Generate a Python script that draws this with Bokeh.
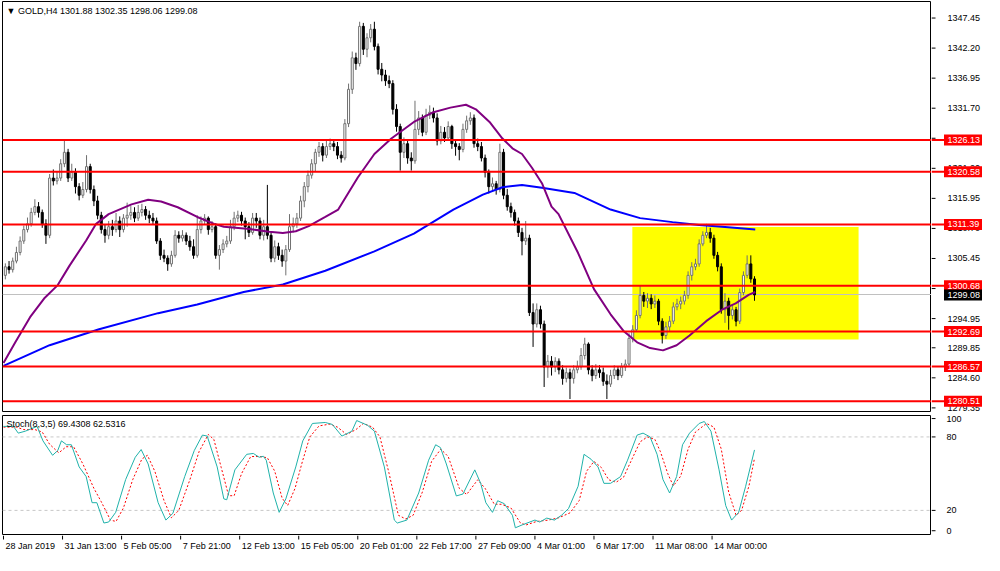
from bokeh.plotting import figure
from bokeh.models import Range1d, Span, Label, ColumnDataSource
from bokeh.layouts import column, row
from bokeh.core.properties import value
from bokeh.embed import file_html
from bokeh.resources import INLINE

# ---------------- data ----------------
opens = [1302.5,1304.0,1303.5,1305.0,1306.5,1308.5,1310.5,1311.5,1313.5,1314.5,
 1313.5,1311.5,1309.5,1319.5,1319.0,1319.5,1322.0,1324.0,1319.5,1320.5,
 1318.0,1316.5,1317.5,1321.5,1317.5,1315.5,1313.0,1310.5,1309.5,1311.0,
 1310.5,1312.0,1310.5,1312.5,1313.0,1313.5,1312.5,1313.5,1314.0,1313.0,
 1312.5,1312.0,1308.5,1306.0,1305.5,1304.5,1306.0,1309.5,1309.0,1309.5,
 1308.5,1307.5,1306.0,1310.5,1312.0,1312.5,1310.5,1311.0,1306.0,1307.0,
 1308.0,1308.5,1311.0,1312.5,1313.0,1312.0,1311.0,1310.0,1312.5,1312.0,
 1309.5,1311.0,1309.5,1305.5,1307.5,1306.0,1305.0,1307.0,1311.0,1311.5,
 1312.5,1315.5,1318.0,1320.0,1322.0,1324.0,1325.0,1323.5,1325.0,1325.5,
 1325.0,1323.5,1323.0,1329.0,1335.0,1340.5,1339.5,1346.0,1342.0,1344.0,
 1345.5,1342.5,1338.5,1337.5,1336.5,1336.0,1331.5,1328.5,1324.0,1325.5,
 1323.0,1322.5,1328.0,1330.0,1327.5,1330.5,1331.0,1330.0,1326.0,1327.5,
 1326.5,1328.5,1325.5,1325.0,1324.5,1328.0,1329.5,1330.0,1325.5,1325.0,
 1323.0,1320.5,1318.0,1318.5,1317.5,1324.0,1316.5,1314.5,1313.5,1312.0,
 1310.0,1308.5,1309.0,1296.0,1294.0,1296.5,1294.0,1286.5,1287.5,1286.5,
 1287.5,1286.0,1284.5,1285.5,1284.5,1286.0,1286.5,1288.5,1290.5,1286.0,
 1285.0,1286.0,1285.5,1284.0,1283.5,1285.0,1286.0,1285.0,1286.5,1287.0,
 1291.5,1293.0,1295.5,1299.0,1298.0,1298.5,1297.5,1298.0,1294.5,1292.0,
 1293.5,1294.5,1297.0,1297.5,1298.0,1299.0,1302.5,1304.0,1304.5,1308.0,
 1309.5,1310.0,1309.0,1306.0,1304.0,1296.5,1298.0,1295.5,1296.5,1294.5,
 1299.5,1302.5,1304.5,1301.88]

highs = [1304.6,1305.0,1305.6,1307.5,1309.3,1311.2,1312.6,1314.3,1315.8,1315.3,
 1314.0,1312.3,1320.2,1321.0,1320.6,1322.8,1326.2,1324.6,1322.0,1321.2,
 1318.6,1318.8,1323.5,1322.0,1318.2,1316.4,1313.6,1311.4,1312.0,1312.2,
 1313.4,1312.8,1313.2,1315.2,1314.6,1314.4,1314.8,1315.0,1314.6,1313.8,
 1313.4,1312.6,1309.0,1307.0,1306.0,1306.8,1310.4,1310.2,1310.4,1310.0,
 1309.4,1308.8,1313.0,1312.8,1313.2,1312.8,1312.0,1311.6,1307.8,1308.8,
 1309.4,1312.2,1313.6,1313.8,1313.6,1312.6,1311.8,1313.4,1313.4,1312.6,
 1312.2,1318.3,1310.0,1308.6,1308.2,1307.0,1307.8,1313.2,1312.6,1313.4,
 1316.4,1318.8,1320.8,1322.8,1324.6,1325.8,1325.6,1326.0,1326.4,1326.2,
 1325.8,1324.2,1329.8,1336.0,1341.6,1341.4,1346.8,1346.6,1344.8,1346.4,
 1346.8,1343.0,1339.6,1338.4,1337.4,1336.6,1332.4,1329.0,1326.6,1326.0,
 1324.0,1333.0,1331.2,1330.6,1331.6,1332.2,1331.8,1330.8,1328.6,1328.4,
 1329.4,1328.8,1326.2,1325.6,1329.0,1330.4,1331.0,1330.6,1326.4,1325.8,
 1323.6,1321.0,1319.6,1319.0,1325.5,1324.6,1317.6,1315.2,1314.0,1312.6,
 1310.8,1312.0,1309.6,1297.6,1297.6,1297.2,1294.6,1288.6,1288.4,1288.2,
 1288.0,1286.8,1286.4,1286.2,1286.8,1287.6,1289.8,1291.6,1290.8,1286.8,
 1287.0,1286.8,1286.4,1285.2,1286.0,1286.8,1286.6,1287.2,1287.8,1292.4,
 1293.8,1296.4,1300.8,1299.6,1299.4,1299.2,1299.0,1298.4,1295.0,1294.4,
 1295.4,1297.8,1298.4,1298.8,1299.8,1303.2,1304.8,1305.4,1308.8,1310.2,
 1311.5,1310.8,1309.6,1306.6,1304.6,1299.4,1298.6,1297.4,1297.0,1300.2,
 1303.2,1306.0,1306.0,1302.35]

lows = [1301.8,1302.8,1303.0,1304.6,1306.0,1308.0,1310.0,1311.0,1313.0,1312.6,
 1310.8,1308.0,1309.0,1318.2,1318.4,1319.0,1321.4,1318.8,1319.0,1316.8,
 1315.6,1316.0,1317.0,1316.8,1314.6,1312.3,1309.8,1308.2,1308.8,1309.4,
 1310.0,1309.2,1310.0,1311.0,1312.2,1311.8,1312.0,1312.8,1312.2,1311.6,
 1311.4,1308.0,1305.2,1304.8,1303.3,1304.0,1305.6,1308.2,1308.4,1307.8,
 1306.8,1305.4,1305.6,1309.8,1311.4,1309.6,1310.0,1305.4,1303.5,1306.4,
 1307.4,1308.0,1310.4,1311.8,1311.2,1308.8,1309.2,1309.6,1310.8,1308.8,
 1308.6,1308.8,1304.8,1304.8,1305.2,1304.0,1302.5,1306.6,1310.0,1310.8,
 1312.0,1314.4,1317.0,1319.4,1320.6,1323.2,1322.4,1323.0,1324.4,1324.2,
 1322.8,1322.2,1322.6,1328.4,1334.2,1338.4,1339.0,1341.0,1340.6,1343.2,
 1341.8,1337.6,1336.4,1335.6,1335.2,1330.6,1327.6,1320.8,1323.0,1322.0,
 1320.8,1322.0,1327.0,1326.8,1327.0,1329.8,1329.2,1325.2,1325.4,1325.8,
 1326.0,1324.6,1323.4,1322.6,1324.0,1327.4,1328.8,1324.8,1324.2,1322.4,
 1319.6,1316.8,1317.2,1316.6,1317.0,1315.8,1313.8,1312.6,1311.2,1309.2,
 1306.0,1307.8,1295.4,1290.0,1293.4,1293.2,1283.0,1284.6,1285.0,1285.6,
 1285.2,1283.4,1283.8,1280.9,1283.6,1285.4,1286.0,1287.8,1285.2,1284.0,
 1284.4,1284.6,1283.2,1280.9,1283.0,1284.4,1284.2,1284.6,1285.8,1286.6,
 1290.8,1292.6,1295.0,1297.0,1296.8,1296.6,1296.8,1293.8,1290.6,1291.4,
 1292.8,1294.0,1296.4,1296.6,1297.4,1298.4,1301.6,1303.4,1304.0,1307.6,
 1309.0,1308.2,1305.4,1303.2,1295.8,1294.2,1293.0,1294.8,1293.6,1294.0,
 1299.0,1302.0,1301.2,1298.06]

closes = [1304.0,1303.5,1305.0,1306.5,1308.5,1310.5,1311.5,1313.5,1314.5,1313.5,
 1311.5,1309.5,1319.5,1319.0,1319.5,1322.0,1324.0,1319.5,1320.5,1318.0,
 1316.5,1317.5,1321.5,1317.5,1315.5,1313.0,1310.5,1309.5,1311.0,1310.5,
 1312.0,1310.5,1312.5,1313.0,1313.5,1312.5,1313.5,1314.0,1313.0,1312.5,
 1312.0,1308.5,1306.0,1305.5,1304.5,1306.0,1309.5,1309.0,1309.5,1308.5,
 1307.5,1306.0,1310.5,1312.0,1312.5,1310.5,1311.0,1306.0,1307.0,1308.0,
 1308.5,1311.0,1312.5,1313.0,1312.0,1311.0,1310.0,1312.5,1312.0,1309.5,
 1311.0,1309.5,1305.5,1307.5,1306.0,1305.0,1307.0,1311.0,1311.5,1312.5,
 1315.5,1318.0,1320.0,1322.0,1324.0,1325.0,1323.5,1325.0,1325.5,1325.0,
 1323.5,1323.0,1329.0,1335.0,1340.5,1339.5,1346.0,1342.0,1344.0,1345.5,
 1342.5,1338.5,1337.5,1336.5,1336.0,1331.5,1328.5,1324.0,1325.5,1323.0,
 1322.5,1328.0,1330.0,1327.5,1330.5,1331.0,1330.0,1326.0,1327.5,1326.5,
 1328.5,1325.5,1325.0,1324.5,1328.0,1329.5,1330.0,1325.5,1325.0,1323.0,
 1320.5,1318.0,1318.5,1317.5,1324.0,1316.5,1314.5,1313.5,1312.0,1310.0,
 1308.5,1309.0,1296.0,1294.0,1296.5,1294.0,1286.5,1287.5,1286.5,1287.5,
 1286.0,1284.5,1285.5,1284.5,1286.0,1286.5,1288.5,1290.5,1286.0,1285.0,
 1286.0,1285.5,1284.0,1283.5,1285.0,1286.0,1285.0,1286.5,1287.0,1291.5,
 1293.0,1295.5,1299.0,1298.0,1298.5,1297.5,1298.0,1294.5,1292.0,1293.5,
 1294.5,1297.0,1297.5,1298.0,1299.0,1302.5,1304.0,1304.5,1308.0,1309.5,
 1310.0,1309.0,1306.0,1304.0,1296.5,1298.0,1295.5,1296.5,1294.5,1299.5,
 1302.5,1304.5,1301.88,1299.08]

# moving averages (bar index, price)
ma_purple_x = [-0.5, 2.7, 6.7, 10.7, 14.2, 17.4, 21.9, 24.6, 28.0, 34.2, 38.7, 42.2, 46.7, 52.0,
               56.6, 59.2, 66.2, 71.5, 75.2, 78.7, 82.2, 86.7, 90.2, 95.5, 100.0, 104.6, 110.7,
               116.0, 120.6, 124.8, 127.5, 131.2, 134.7, 137.4, 140.0, 142.7, 145.4, 148.0, 149.9,
               155.2, 159.5, 164.0, 167.5, 171.2, 174.7, 178.2, 181.9, 185.4, 189.9, 194.2, 197.9,
               201.4, 203.2]
ma_purple_y = [1287.2, 1290.8, 1295.2, 1298.6, 1300.8, 1304.2, 1308.6, 1311.5, 1313.2, 1314.9,
               1315.7, 1315.4, 1314.4, 1312.7, 1311.5, 1311.0, 1310.6, 1310.1, 1309.9, 1310.2,
               1311.1, 1312.7, 1314.0, 1319.6, 1323.7, 1326.4, 1329.3, 1331.0, 1331.8, 1332.3,
               1331.5, 1329.3, 1326.4, 1324.7, 1323.7, 1321.3, 1318.6, 1314.5, 1313.2, 1306.4,
               1300.1, 1295.7, 1292.8, 1290.8, 1289.8, 1289.4, 1290.3, 1292.0, 1294.5, 1296.5,
               1297.6, 1299.1, 1299.6]
ma_blue_x = [-0.5, 12.0, 25.4, 41.4, 52.0, 64.6, 75.2, 86.7, 100.0, 110.7, 121.4, 129.4, 134.7,
             140.0, 145.4, 154.2, 164.0, 172.0, 180.8, 188.0, 194.2, 203.2]
ma_blue_y = [1286.7, 1290.3, 1293.1, 1295.9, 1297.4, 1299.6, 1300.9, 1303.3, 1306.7, 1309.8,
             1314.0, 1316.6, 1317.9, 1318.3, 1317.8, 1316.9, 1314.0, 1312.5, 1311.8, 1311.3,
             1311.0, 1310.5]

# stochastic %K (main) and %D (signal)
stoch_k_x = [-0.5, 2.2, 3.5, 5.4, 8.6, 10.2, 12.8, 14.2, 15.2, 16.6, 17.9, 20.0, 21.9, 23.5, 24.8,
             26.7, 28.0, 29.9, 32.6, 35.2, 36.8, 38.7, 41.4, 43.5, 45.4, 48.6, 51.2, 53.4, 54.7,
             57.4, 59.2, 60.0, 62.2, 65.4, 67.2, 68.8, 69.9, 70.7, 72.6, 74.2, 76.0, 78.7, 80.6,
             83.2, 86.7, 88.6, 91.2, 93.9, 95.2, 98.2, 100.0, 102.7, 105.4, 106.2, 108.8, 112.0,
             114.7, 116.6, 117.9, 119.5, 122.2, 124.0, 127.2, 128.8, 130.2, 132.0, 133.4, 135.2,
             137.4, 138.2, 140.0, 143.5, 144.8, 146.7, 148.8, 150.7, 152.6, 155.2, 156.8, 158.7,
             160.6, 162.2, 164.0, 166.7, 168.6, 171.2, 172.8, 174.7, 176.6, 178.2, 180.0, 181.9,
             183.5, 185.4, 188.0, 189.4, 191.2, 193.4, 195.2, 196.8, 198.7, 200.6, 203.0]
stoch_k_v = [88.6, 88.6, 83.1, 84.7, 88.6, 76.8, 65.0, 68.9, 76.8, 73.6, 73.6, 55.5, 47.6, 26.3, 26.3,
             9.7, 10.5, 18.4, 45.2, 63.4, 69.7, 57.9, 26.3, 12.1, 17.6, 47.6, 68.9, 81.5, 80.7,
             55.5, 29.4, 28.7, 53.1, 65.8, 66.5, 63.4, 64.2, 61.0, 34.2, 18.4, 29.4, 55.5, 76.8,
             91.0, 91.8, 90.2, 80.7, 84.7, 93.4, 89.4, 84.7, 55.5, 12.1, 9.7, 12.1, 34.2,
             61.0, 73.6, 71.3, 57.9, 31.8, 33.4, 53.1, 42.1, 26.3, 18.4, 27.9, 25.5,
             16.0, 5.8, 8.1, 12.1, 10.5, 13.7, 12.1, 16.0, 21.5, 39.7, 65.8, 61.8,
             55.5, 42.1, 42.1, 47.6, 61.0, 81.5, 83.1, 80.0, 65.8, 45.2, 34.2, 47.6,
             73.6, 83.1, 91.0, 92.6, 84.7, 53.1, 23.9, 12.1, 18.4, 39.7, 69.4]
stoch_d_x = [-0.5, 3, 5, 8, 10, 12, 14.5, 16.5, 18.5, 21, 24, 26, 28.5, 30, 32, 34.5, 37, 38.5, 40.5,
             43, 45, 47, 50, 52.5, 55, 56.5, 58.5, 60.5, 62, 64, 66.5, 69, 71, 73, 75, 76.5, 78.5,
             80.5, 82.5, 85, 88, 90, 92.5, 95, 97, 99.5, 101.5, 104, 106.5, 108.5, 110.5, 113,
             115.5, 118, 120, 123, 125, 128, 130, 132.5, 134.5, 137, 139.5, 141, 144, 147, 150,
             153, 155.5, 157.5, 159.5, 161.5, 163.5, 165.5, 167.5, 169.5, 172, 174, 176, 177.5,
             179.5, 181, 183, 185, 187, 190, 192, 194, 196, 198, 199.5, 201.5, 203]
stoch_d_v = [88, 88, 86, 86, 84, 74, 67, 72, 72, 58, 38, 27, 12, 11, 22, 45, 62, 65, 52,
             28, 14, 20, 45, 68, 82, 78, 55, 32, 32, 50, 64, 64, 63, 52, 30, 24, 38,
             60, 80, 89, 90.5, 88, 82, 86, 91, 88, 80, 50, 16, 13, 16, 35,
             60, 70, 64, 38, 33, 45, 38, 25, 25, 22, 10, 8, 11, 12, 14,
             18, 28, 52, 60, 55, 45, 43, 47, 60, 76, 80, 78, 68,
             50, 40, 48, 70, 84, 91, 88, 70, 35, 16, 20, 40, 62.5]

levels = [1326.13, 1320.58, 1311.39, 1300.68, 1292.69, 1286.57, 1280.51]
last_price = 1299.08
price_ticks = [1347.45, 1342.20, 1336.95, 1331.70, 1326.45, 1321.20, 1315.95, 1310.70,
               1305.45, 1300.20, 1294.95, 1289.85, 1284.60, 1279.35]
price_tick_labels = ["1347.45", "1342.20", "1336.95", "1331.70", "1326.45", "1321.20", "1315.95",
                     "1310.70", "1305.45", "1300.20", "1294.95", "1289.85", "1284.60", "1279.35"]
tick_bars = [0, 16, 32, 48, 64, 80, 96, 112, 128, 144, 160, 176, 192]
tick_labels = ["28 Jan 2019", "31 Jan 13:00", "5 Feb 05:00", "7 Feb 21:00", "12 Feb 13:00",
               "15 Feb 05:00", "20 Feb 01:00", "22 Feb 17:00", "27 Feb 09:00", "4 Mar 01:00",
               "6 Mar 17:00", "11 Mar 08:00", "14 Mar 00:00"]
stoch_ticks = [3.4, 20, 80, 95]
stoch_tick_labels = ["0", "20", "80", "100"]
zone_bars = [169.9, 231.2]
zone_prices = [1291.28, 1310.96]
header_text = "\u25BC GOLD,H4  1301.88 1302.35 1298.06 1299.08"
stoch_text = "Stoch(8,3,5) 69.4308 62.5316"

# ---------------- layout constants ----------------
FONT = "Liberation Sans"
FS = "9px"
W = 984
BL = 2          # left border
RW = 53         # right price-scale strip
LW = W - RW     # left column width
H1, T1, B1 = 413, 1, 2      # main panel
H2, T2 = 122, 2             # stochastic panel
H3 = 20                     # time-scale strip
TICK = 4
LBL_X = 16
BOX_X0, BOX_X1 = 12.5, 50.5

xr = Range1d(-0.77, 250.96)
yr1 = Range1d(1278.72, 1350.34)
yr2 = Range1d(-0.5, 97.5)


def base(width, height, x_range, y_range, left=0, right=0, top=0, bottom=0):
    f = figure(width=width, height=height, x_range=x_range, y_range=y_range,
               output_backend="svg", toolbar_location=None,
               x_axis_location=None, y_axis_location=None,
               min_border=0, min_border_left=left, min_border_right=right,
               min_border_top=top, min_border_bottom=bottom)
    f.grid.visible = False
    f.border_fill_color = "white"
    f.background_fill_color = "white"
    return f


# ---------------- main price panel ----------------
p1 = base(LW, H1, xr, yr1, left=BL, top=T1, bottom=B1)
p1.outline_line_color = "black"

p1.quad(left=[zone_bars[0]], right=[zone_bars[1]], bottom=[zone_prices[0]], top=[zone_prices[1]],
        fill_color="#FFFF00", line_color=None)
p1.hspan(y=[last_price], line_color="#C0C0C0", line_width=1)

n = len(closes)
up = [i for i in range(n) if closes[i] >= opens[i]]
dn = [i for i in range(n) if closes[i] < opens[i]]


def src(idx):
    return ColumnDataSource(dict(
        x=idx,
        high=[highs[i] for i in idx],
        low=[lows[i] for i in idx],
        top=[max(opens[i], closes[i]) for i in idx],
        bottom=[min(opens[i], closes[i]) for i in idx],
    ))


s_up, s_dn = src(up), src(dn)
p1.segment(x0="x", x1="x", y0="low", y1="high", source=s_up, line_color="#707070", line_width=1)
p1.segment(x0="x", x1="x", y0="low", y1="high", source=s_dn, line_color="#000000", line_width=1)
p1.vbar(x="x", width=0.55, top="top", bottom="bottom", source=s_up,
        fill_color="white", line_color="#707070", line_width=1)
p1.vbar(x="x", width=0.55, top="top", bottom="bottom", source=s_dn,
        fill_color="black", line_color="black", line_width=1)

p1.line(ma_blue_x, ma_blue_y, line_color="#0000FF", line_width=2)
p1.line(ma_purple_x, ma_purple_y, line_color="#800080", line_width=2)

for lv in levels:
    p1.add_layout(Span(location=lv, dimension="width", line_color="#FF0000", line_width=2))

p1.add_layout(Label(x=4, y=H1 - T1 - B1 - 4, x_units="screen", y_units="screen", text=header_text,
                    text_font=FONT, text_font_size=FS, text_baseline="top", text_color="black"))

# ---------------- main price scale (right strip) ----------------
p1r = base(RW, H1, Range1d(0, RW), yr1, top=T1, bottom=B1)
p1r.outline_line_color = None
p1r.segment(x0=[0] * len(price_ticks), x1=[TICK] * len(price_ticks), y0=price_ticks, y1=price_ticks,
            line_color="black", line_width=1)
p1r.text(x=[LBL_X] * len(price_ticks), y=price_ticks, text=price_tick_labels,
         text_font=value(FONT), text_font_size=value(FS), text_baseline="middle",
         text_align="left", text_color="black")
p1r.segment(x0=[0] * len(levels), x1=[BOX_X0] * len(levels), y0=levels, y1=levels,
            line_color="#FF0000", line_width=2)
p1r.rect(x=[(BOX_X0 + BOX_X1) / 2] * len(levels), y=levels, width=BOX_X1 - BOX_X0, height=11,
         height_units="screen", fill_color="#FF0000", line_color=None)
p1r.text(x=[LBL_X] * len(levels), y=levels, text=[f"{v:.2f}" for v in levels],
         text_font=value(FONT), text_font_size=value(FS), text_baseline="middle",
         text_align="left", text_color="white")
p1r.rect(x=[(BOX_X0 + BOX_X1) / 2], y=[last_price], width=BOX_X1 - BOX_X0, height=11,
         height_units="screen", fill_color="#000000", line_color=None)
p1r.text(x=[LBL_X], y=[last_price], text=[f"{last_price:.2f}"],
         text_font=value(FONT), text_font_size=value(FS), text_baseline="middle",
         text_align="left", text_color="white")

# ---------------- stochastic panel ----------------
p2 = base(LW, H2, xr, yr2, left=BL, top=T2)
p2.outline_line_color = "black"
for lv in (20, 80):
    p2.add_layout(Span(location=lv, dimension="width", line_color="#C8C8C8", line_width=1,
                       line_dash="3 3", level="underlay"))
p2.line(stoch_d_x, stoch_d_v, line_color="#FF0000", line_width=1, line_dash="2 2")
p2.line(stoch_k_x, stoch_k_v, line_color="#20B2AA", line_width=1)
p2.add_layout(Label(x=4, y=H2 - T2 - 3, x_units="screen", y_units="screen", text=stoch_text,
                    text_font=FONT, text_font_size=FS, text_baseline="top", text_color="black"))

p2r = base(RW, H2, Range1d(0, RW), yr2, top=T2)
p2r.outline_line_color = None
p2r.segment(x0=[0] * len(stoch_ticks), x1=[TICK] * len(stoch_ticks), y0=stoch_ticks, y1=stoch_ticks,
            line_color="black", line_width=1)
p2r.text(x=[LBL_X - 1] * len(stoch_ticks), y=stoch_ticks, text=stoch_tick_labels,
         text_font=value(FONT), text_font_size=value(FS), text_baseline="middle",
         text_align="left", text_color="black")

# ---------------- time scale strip ----------------
p3 = base(LW, H3, xr, Range1d(0, H3), left=BL)
p3.outline_line_color = None
tick_x = [b - 0.5 for b in tick_bars]
p3.segment(x0=tick_x, x1=tick_x, y0=[H3] * len(tick_x), y1=[H3 - TICK] * len(tick_x),
           line_color="black", line_width=1)
p3.text(x=tick_x, y=[H3 - 10] * len(tick_x), text=tick_labels, x_offset=2,
        text_font=value(FONT), text_font_size=value(FS), text_baseline="middle",
        text_align="left", text_color="black")

layout = row(column(p1, p2, p3, spacing=0), column(p1r, p2r, spacing=0), spacing=0)
open("out.html", "w").write(file_html(layout, INLINE))
